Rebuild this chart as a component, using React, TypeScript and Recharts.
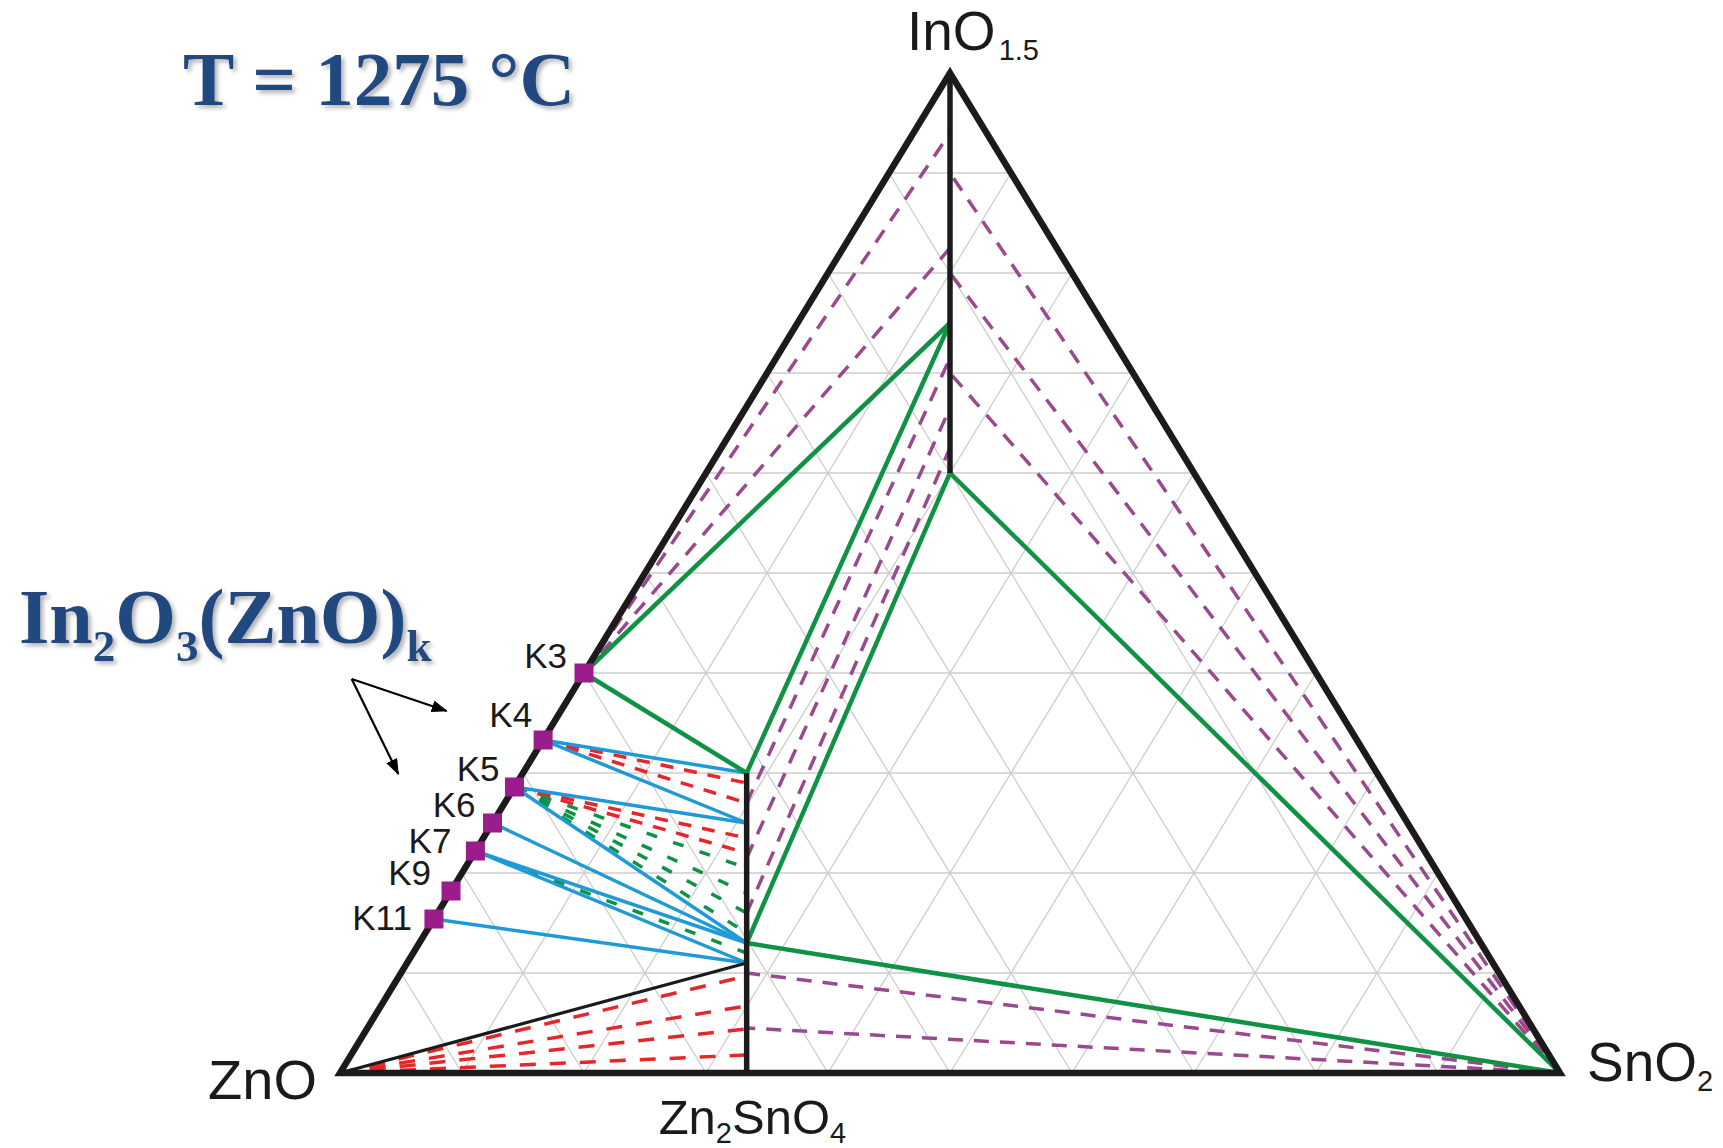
import React from 'react';
import { ScatterChart, Scatter, XAxis, YAxis, ReferenceLine } from 'recharts';

type Pt = { x: number; y: number };
type Ref = string | { s: number } | { b: number };

// ---------------- data (mole fractions) ----------------
// In2O3(ZnO)k phases on the ZnO–InO1.5 edge (InO1.5 fraction)
const kNames = ['K3', 'K4', 'K5', 'K6', 'K7', 'K9', 'K11'];
const kInO = [0.4, 0.333, 0.286, 0.25, 0.222, 0.182, 0.154];

// triangular grid levels
const gridLevels = [0.1, 0.2, 0.3, 0.4, 0.5, 0.6, 0.7, 0.8, 0.9];

// Zn2SnO4-based solid solution (InO1.5 range along the Zn2SnO4 line)
const spinelRange = [0, 0.3];
// In2O3-based solid solution (InO1.5 range along the InO1.5–ZnSnO3 join)
const bixbyiteRange = [0.6, 1.0];

// phase-field boundaries (green solid)
const greenBoundaries: [Ref, Ref][] = [
  ['K3', { b: 0.75 }],
  ['K3', { s: 0.3 }],
  [{ s: 0.3 }, { b: 0.75 }],
  [{ s: 0.13 }, { b: 0.6 }],
  [{ b: 0.6 }, 'SnO2'],
  [{ s: 0.13 }, 'SnO2'],
];
// K phase -> spinel solid solution (InO1.5 fraction)
const blueTies: [string, number][] = [
  ['K4', 0.3], ['K4', 0.25], ['K5', 0.25], ['K5', 0.13],
  ['K6', 0.13], ['K7', 0.13], ['K7', 0.11], ['K11', 0.11],
];
const redTiesK: [string, number][] = [['K4', 0.29], ['K4', 0.27], ['K5', 0.235], ['K5', 0.22]];
const greenTiesK: [string, number][] = [['K5', 0.205], ['K5', 0.18], ['K5', 0.16], ['K5', 0.14], ['K7', 0.12]];
// ZnO -> spinel ss
const redTiesZnO = [0.097, 0.067, 0.044, 0.018];
const blackTieZnO = [0.11];
// K3 -> In2O3 ss
const purpleTiesK3 = [0.94, 0.825];
// SnO2 -> In2O3 ss
const purpleTiesSnO2Bix = [0.9, 0.8, 0.7];
// spinel ss -> In2O3 ss
const purpleTiesBand: [number, number][] = [[0.27, 0.715], [0.215, 0.665], [0.16, 0.625]];
// SnO2 -> spinel ss
const purpleTiesSnO2Sp = [0.1, 0.045];

// annotation arrows (plot coordinates)
const arrowFrom = { x: 0.0096, y: 0.394 };
const arrowTo = [{ x: 0.0875, y: 0.362 }, { x: 0.0478, y: 0.299 }];

// ---------------- layout / styles ----------------
const W = 1723;
const H = 1148;
const SANS = "'Liberation Sans', Arial, sans-serif";
const SERIF = "'Liberation Serif', 'Times New Roman', serif";
const C_BLACK = '#1c1a1a';
const C_GREEN = '#109244';
const C_BLUE = '#1f9ad6';
const C_RED = '#e5262b';
const C_PURPLE = '#9a4a8c';
const C_SQUARE = '#9b1d8b';
const C_GRID = '#cdcdcd';
const C_TITLE = '#214a7f';

const kLabelOffsets: Record<string, [number, number]> = {
  K3: [-17, -5], K4: [-11, -13], K5: [-15, -6], K6: [-17, -6],
  K7: [-24, 2], K9: [-20, -6], K11: [-22, 11],
};

// ternary projection helpers
const SP_X = 1 / 3; // Zn2SnO4 position on ZnO–SnO2 base
const BX_X = 0.5; // InO1.5–ZnSnO3 join
function pt(r: Ref): Pt {
  if (typeof r === 'string') {
    if (r === 'ZnO') return { x: 0, y: 0 };
    if (r === 'SnO2') return { x: 1, y: 0 };
    if (r === 'InO1.5') return { x: 0.5, y: 1 };
    const i = kNames.indexOf(r);
    return { x: kInO[i] / 2, y: kInO[i] };
  }
  if ('s' in r) return { x: SP_X, y: r.s };
  return { x: BX_X, y: r.b };
}

const noDot = () => <g />;

function seg(key: string, pts: Pt[], stroke: string, width: number, dash?: string) {
  return (
    <Scatter
      key={key}
      data={pts}
      fill={stroke}
      stroke={stroke}
      strokeWidth={width}
      line={{ stroke, strokeWidth: width, strokeDasharray: dash, strokeLinecap: 'butt', strokeLinejoin: 'miter' }}
      shape={noDot}
      isAnimationActive={false}
      legendType="none"
    />
  );
}

const kPoints = kNames.map((name, i) => ({ x: kInO[i] / 2, y: kInO[i], name }));

const cornerPoints = [
  { ...pt('ZnO'), id: 'ZnO' },
  { ...pt('SnO2'), id: 'SnO2' },
  { ...pt('InO1.5'), id: 'InO' },
  { x: SP_X, y: 0, id: 'Zn2SnO4' },
];

const KShape = (props: any) => {
  const { cx, cy, payload } = props;
  const [dx, dy] = kLabelOffsets[payload.name] || [-18, 0];
  return (
    <g>
      <rect x={cx - 9.5} y={cy - 9.5} width={19} height={19} fill={C_SQUARE} />
      <text x={cx + dx} y={cy + dy} textAnchor="end" fontFamily={SANS} fontSize={35} fill="#1a1a1a">
        {payload.name}
      </text>
    </g>
  );
};

const CornerShape = (props: any) => {
  const { cx, cy, payload } = props;
  const id = payload.id;
  if (id === 'ZnO')
    return (
      <text x={cx - 23} y={cy + 26} textAnchor="end" fontFamily={SANS} fontSize={56} fill="#1a1a1a">ZnO</text>
    );
  if (id === 'SnO2')
    return (
      <text x={cx + 27} y={cy + 8} fontFamily={SANS} fontSize={55} fill="#1a1a1a">
        SnO<tspan fontSize={29} dy={10}>2</tspan>
      </text>
    );
  if (id === 'InO')
    return (
      <text x={cx - 43} y={cy - 23} fontFamily={SANS} fontSize={55} fill="#1a1a1a">
        InO<tspan fontSize={29} dy={10} dx={3}>1.5</tspan>
      </text>
    );
  return (
    <text x={cx - 88} y={cy + 61} fontFamily={SANS} fontSize={49} fill="#1a1a1a">
      Zn<tspan fontSize={29} dy={9}>2</tspan>
      <tspan dy={-9}>SnO</tspan>
      <tspan fontSize={29} dy={9}>4</tspan>
    </text>
  );
};

export default function App() {
  const series: React.ReactNode[] = [];

  // grid
  gridLevels.forEach((l, i) => {
    series.push(seg(`gh${i}`, [{ x: l / 2, y: l }, { x: 1 - l / 2, y: l }], C_GRID, 1.3));
    series.push(seg(`gs${i}`, [{ x: l, y: 0 }, { x: l + (1 - l) / 2, y: 1 - l }], C_GRID, 1.3));
    series.push(seg(`ga${i}`, [{ x: 1 - l, y: 0 }, { x: (1 - l) / 2, y: 1 - l }], C_GRID, 1.3));
  });

  // dashed tie lines
  redTiesZnO.forEach((v, i) => series.push(seg(`rz${i}`, [pt('ZnO'), pt({ s: v })], C_RED, 3.5, '16 14')));
  redTiesK.forEach(([k, v], i) => series.push(seg(`rk${i}`, [pt(k), pt({ s: v })], C_RED, 3.5, '13 11')));
  greenTiesK.forEach(([k, v], i) => series.push(seg(`gk${i}`, [pt(k), pt({ s: v })], C_GREEN, 3.5, '11 17')));
  purpleTiesK3.forEach((v, i) => series.push(seg(`pk${i}`, [pt('K3'), pt({ b: v })], C_PURPLE, 3.5, '15 11')));
  purpleTiesSnO2Bix.forEach((v, i) => series.push(seg(`pb${i}`, [pt('SnO2'), pt({ b: v })], C_PURPLE, 3.5, '15 11')));
  purpleTiesBand.forEach(([s, b], i) => series.push(seg(`pd${i}`, [pt({ s }), pt({ b })], C_PURPLE, 3.5, '15 11')));
  purpleTiesSnO2Sp.forEach((v, i) => series.push(seg(`ps${i}`, [pt('SnO2'), pt({ s: v })], C_PURPLE, 3.5, '15 11')));

  // solid tie lines
  blueTies.forEach(([k, v], i) => series.push(seg(`bt${i}`, [pt(k), pt({ s: v })], C_BLUE, 3.5)));
  blackTieZnO.forEach((v, i) => series.push(seg(`kz${i}`, [pt('ZnO'), pt({ s: v })], C_BLACK, 3.2)));
  greenBoundaries.forEach(([a, b], i) => series.push(seg(`gb${i}`, [pt(a), pt(b)], C_GREEN, 4.5)));

  // solid solution lines and triangle
  series.push(seg('spinel', [{ x: SP_X, y: spinelRange[0] }, { x: SP_X, y: spinelRange[1] }], C_BLACK, 5.5));
  series.push(seg('bixbyite', [{ x: BX_X, y: bixbyiteRange[0] }, { x: BX_X, y: bixbyiteRange[1] }], C_BLACK, 5.5));
  series.push(seg('tri', [pt('ZnO'), pt('SnO2'), pt('InO1.5'), pt('ZnO'), pt('SnO2')], C_BLACK, 6.5));

  return (
    <div style={{ position: 'absolute', left: 0, top: 0, width: W, height: H, background: '#fff' }}>
      <ScatterChart width={W} height={H} margin={{ top: 73, right: 163, bottom: 75, left: 340 }}>
        <XAxis type="number" dataKey="x" domain={[0, 1]} hide />
        <YAxis type="number" dataKey="y" domain={[0, 1]} hide />
        {series}
        {arrowTo.map((t, i) => (
          <ReferenceLine
            key={`ar${i}`}
            segment={[arrowFrom, t]}
            stroke="#000"
            strokeWidth={2.2}
            markerEnd="url(#arrowHead)"
            ifOverflow="visible"
          />
        ))}
        <Scatter data={kPoints} fill={C_SQUARE} shape={KShape} isAnimationActive={false} legendType="none" />
        <Scatter data={cornerPoints} fill="#000" shape={CornerShape} isAnimationActive={false} legendType="none" />
      </ScatterChart>
      <svg
        width={W}
        height={H}
        style={{ position: 'absolute', left: 0, top: 0, pointerEvents: 'none', overflow: 'visible' }}
      >
        <defs>
          <marker id="arrowHead" markerUnits="userSpaceOnUse" markerWidth={16} markerHeight={12} refX={15} refY={6} orient="auto">
            <path d="M0,0 L16,6 L0,12 z" fill="#000" />
          </marker>
          <filter id="txtShadow" x="-10%" y="-20%" width="130%" height="150%">
            <feDropShadow dx={3} dy={3} stdDeviation={2} floodColor="#000" floodOpacity={0.3} />
          </filter>
        </defs>
        <text x={183} y={105} fontFamily={SERIF} fontWeight="bold" fontSize={77} fill={C_TITLE} filter="url(#txtShadow)">
          T = 1275 °C
        </text>
        <text x={19} y={643} fontFamily={SERIF} fontWeight="bold" fontSize={78} fill={C_TITLE} filter="url(#txtShadow)">
          In<tspan fontSize={45} dy={18}>2</tspan>
          <tspan dy={-18}>O</tspan>
          <tspan fontSize={45} dy={18}>3</tspan>
          <tspan dy={-18}>(ZnO)</tspan>
          <tspan fontSize={45} dy={18}>k</tspan>
        </text>
      </svg>
    </div>
  );
}
